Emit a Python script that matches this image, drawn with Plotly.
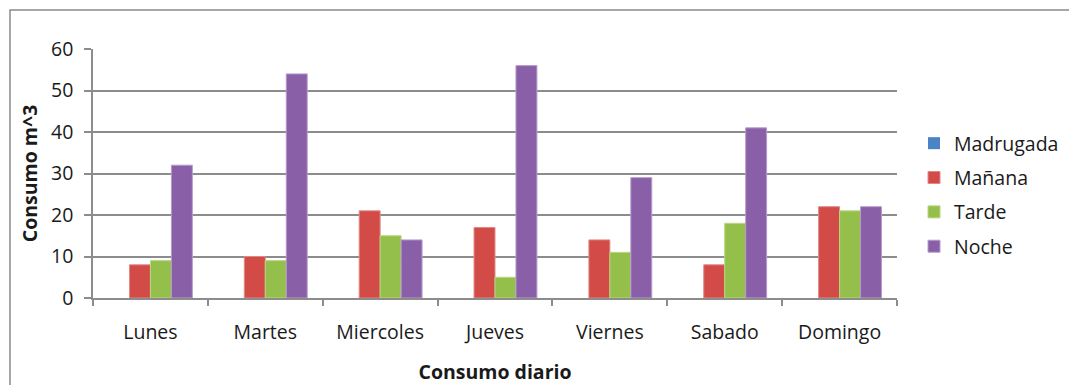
import plotly.graph_objects as go

# Daily water consumption by time of day
dias = ["Lunes", "Martes", "Miercoles", "Jueves", "Viernes", "Sabado", "Domingo"]
madrugada = [0, 0, 0, 0, 0, 0, 0]
manana = [8, 10, 21, 17, 14, 8, 22]
tarde = [9, 9, 15, 5, 11, 18, 21]
noche = [32, 54, 14, 56, 29, 41, 22]

series = [
    ("Madrugada", madrugada, "#4a84c6", "#7aa6d8", 0),
    ("Mañana", manana, "#d24b47", "#e08a86", 1),
    ("Tarde", tarde, "#94bf4a", "#b9d685", 1),
    ("Noche", noche, "#8960a8", "#b79ccc", 1),
]

W, H = 1069, 385
L, R, T, B = 93, 172, 49, 87
pw, ph = W - L - R, H - T - B
FS = 19.5

fig = go.Figure()
for i, (name, vals, color, edge, lw) in enumerate(series):
    fig.add_trace(go.Bar(
        x=dias, y=vals, name=name,
        marker=dict(color=color, line=dict(color=edge, width=lw)),
        legendgroup=f"g{i}",
    ))

font = "Open Sans, DejaVu Sans, sans-serif"
grid = "#8c8c8c"

fig.update_layout(
    width=W, height=H,
    margin=dict(l=L, r=R, t=T, b=B, autoexpand=False),
    paper_bgcolor="white", plot_bgcolor="white",
    barmode="group", bargap=0.27, bargroupgap=0,
    font=dict(family=font, size=FS, color="#1a1a1a"),
    showlegend=True,
    legend=dict(
        x=(914 - L) / pw, xanchor="left",
        y=(H - B - 195) / ph, yanchor="middle",
        font=dict(size=FS, color="#1a1a1a"),
        traceorder="grouped", tracegroupgap=6,
        bgcolor="rgba(0,0,0,0)",
    ),
    xaxis=dict(
        type="category",
        showline=True, linecolor=grid, linewidth=1.5,
        ticks="outside", tickson="boundaries", ticklen=6,
        tickcolor=grid, tickwidth=1.5,
        showgrid=False,
        title=dict(text="<b>Consumo diario</b>", font=dict(size=FS), standoff=33),
        ticklabelstandoff=16,
    ),
    yaxis=dict(
        range=[0, 60], dtick=10,
        showline=True, linecolor=grid, linewidth=1.5,
        ticks="outside", ticklen=7, tickcolor=grid, tickwidth=1.5,
        showgrid=True, gridcolor=grid, gridwidth=1.5,
        zeroline=False,
        ticklabelstandoff=7,
        title=dict(text="<b>Consumo m^3</b>", font=dict(size=FS), standoff=8),
    ),
    shapes=[
        # outer chart frame
        dict(
            type="rect", xref="paper", yref="paper",
            x0=(10 - L) / pw, x1=(W + 20 - L) / pw,
            y0=(H - B - (H + 20)) / ph, y1=(H - B - 10) / ph,
            line=dict(color="#8a8a8a", width=1.5),
            fillcolor="rgba(0,0,0,0)", layer="below",
        )
    ],
)

fig.write_html("out.html")
